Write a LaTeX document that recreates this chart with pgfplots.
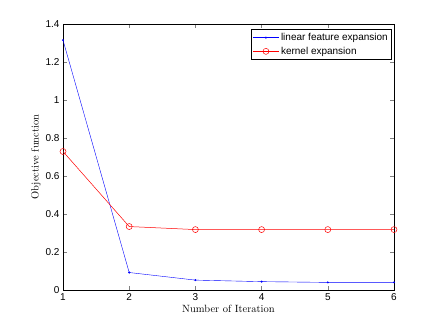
\documentclass[border=0pt]{standalone}
\usepackage{pgfplots}
\pgfplotsset{compat=1.18}
\usepackage{fontspec}
\newfontfamily\helv{Liberation Sans}
\begin{document}
\begin{tikzpicture}
\useasboundingbox (0,0) rectangle (436pt,327pt);
\begin{axis}[
  at={(63pt,37pt)}, anchor=south west,
  scale only axis, width=331pt, height=266pt,
  xmin=1, xmax=6, ymin=0, ymax=1.4,
  xtick={1,2,3,4,5,6},
  ytick={0,0.2,0.4,0.6,0.8,1,1.2,1.4},
  tick align=inside,
  major tick length=4pt,
  /pgf/number format/assume math mode=true,
  ticklabel style={font=\helv\fontsize{10}{12}\selectfont},
  xlabel={Number of Iteration},
  ylabel={Objective function},
  label style={font=\fontsize{10.5}{12}\selectfont},
  xlabel style={yshift=2pt},
  ylabel style={yshift=-2pt},
  axis line style={black, line width=0.5pt},
  legend style={font=\helv\fontsize{10}{12}\selectfont, at={(rel axis cs:1,1)}, xshift=-2pt, yshift=-5pt, anchor=north east, draw=black, line width=0.5pt, inner sep=2pt, row sep=1pt},
  legend cell align=left,
  legend image code/.code={\draw[mark repeat=2,mark phase=2] plot coordinates {(0cm,0cm) (0.45cm,0cm) (0.9cm,0cm)};},
]
\addplot[blue, line width=0.4pt, mark=*, mark size=0.8pt] coordinates {
 (1,1.315) (2,0.092) (3,0.052) (4,0.044) (5,0.040) (6,0.040)};
\addlegendentry{linear feature expansion}
\addplot[red, line width=0.5pt, mark=o, mark size=3pt] coordinates {
 (1,0.729) (2,0.334) (3,0.318) (4,0.318) (5,0.318) (6,0.318)};
\addlegendentry{kernel expansion}
\end{axis}
\end{tikzpicture}
\end{document}
